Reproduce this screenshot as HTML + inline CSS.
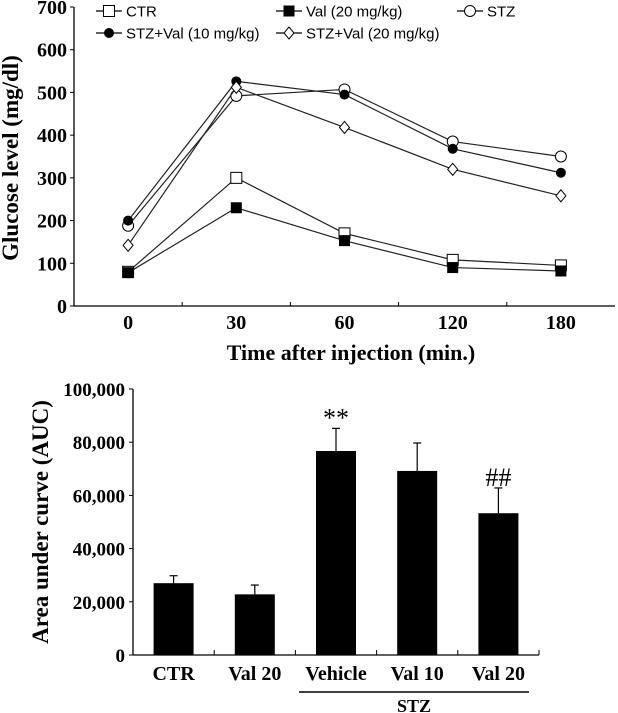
<!DOCTYPE html>
<html><head><meta charset="utf-8"><style>
body{margin:0;background:#fff;}
svg{display:block;}
.t{font-family:"Liberation Serif",serif;font-weight:bold;fill:#000;}
.l{font-family:"Liberation Sans",sans-serif;font-size:15px;fill:#000;}
</style></head><body>
<svg id="svg" width="618" height="713" viewBox="0 0 618 713" xmlns="http://www.w3.org/2000/svg">
<g id="topchart"></g>
<g id="bot"></g>
</svg>
<script>
const timeLabels=["0","30","60","120","180"];
const ctrVals=[80,300,170,108,95];
const valVals=[78,230,153,90,82];
const stzVals=[188,492,507,385,350];
const stzV10Vals=[200,526,495,368,312];
const stzV20Vals=[142,512,418,320,258];
const yTicksTop=[0,100,200,300,400,500,600,700];

const barCats=["CTR","Val 20","Vehicle","Val 10","Val 20"];
const barVals=[27000,22800,76700,69200,53300];
const barErr=[2800,3500,8500,10500,9500];
const barSig=["","","**","","##"];
const yTicksBot=[0,20000,40000,60000,80000,100000];

const NS="http://www.w3.org/2000/svg";
function mk(p,tag,a,txt){const e=document.createElementNS(NS,tag);for(const k in a)e.setAttribute(k,a[k]);if(txt!==undefined)e.textContent=txt;p.appendChild(e);return e;}
const fmt=v=>v.toLocaleString("en-US");

// ---- top chart
const gTop=document.getElementById("topchart");
const tx0=74,tx1=615,ty0=306,ty1=7;
const tyS=v=>ty0-(ty0-ty1)*v/700;
const band=(tx1-tx0)/5;
const txS=i=>tx0+band*(i+0.5);
let e;
e=mk(gTop,"line",{x1:tx0,y1:ty1,x2:tx0,y2:ty0,stroke:"#000","stroke-width":1.3});

e=mk(gTop,"line",{x1:tx0,y1:ty0,x2:tx1,y2:ty0,stroke:"#000","stroke-width":1.3});

yTicksTop.forEach(v=>{
 const y=tyS(v);
 mk(gTop,"line",{x1:tx0-4,y1:y,x2:tx0,y2:y,stroke:"#000"});
 e=mk(gTop,"text",{x:tx0-7,y:y+7,"text-anchor":"end","font-size":20,class:"t"},String(v));
 
});
for(let i=1;i<5;i++){mk(gTop,"line",{x1:tx0+band*i,y1:ty0,x2:tx0+band*i,y2:ty0-4,stroke:"#000"});}
timeLabels.forEach((t,i)=>{
 e=mk(gTop,"text",{x:txS(i),y:329,"text-anchor":"middle","font-size":20,class:"t"},t);
 
});
e=mk(gTop,"text",{x:351,y:360,"text-anchor":"middle","font-size":22,class:"t"},"Time after injection (min.)");

e=mk(gTop,"text",{x:0,y:0,"text-anchor":"middle","font-size":23,class:"t",transform:"translate(18,158) rotate(-90)"},"Glucose level (mg/dl)");


function marker(g,type,x,y){
 if(type=="osq")return mk(g,"rect",{x:x-5.5,y:y-5.5,width:11,height:11,fill:"#fff",stroke:"#000","stroke-width":1});
 if(type=="fsq")return mk(g,"rect",{x:x-5.5,y:y-5.5,width:11,height:11,fill:"#000"});
 if(type=="oc")return mk(g,"circle",{cx:x,cy:y,r:5.5,fill:"#fff",stroke:"#000","stroke-width":1});
 if(type=="fc")return mk(g,"circle",{cx:x,cy:y,r:5,fill:"#000"});
 return mk(g,"polygon",{points:`${x},${y-6} ${x+5},${y} ${x},${y+6} ${x-5},${y}`,fill:"#fff",stroke:"#000","stroke-width":1});
}
const series=[
 {n:"ctr",vals:ctrVals,m:"osq",lab:"CTR",lx:96,ly:11},
 {n:"val",vals:valVals,m:"fsq",lab:"Val (20 mg/kg)",lx:276,ly:11},
 {n:"stz",vals:stzVals,m:"oc",lab:"STZ",lx:457,ly:11},
 {n:"stz-val10",vals:stzV10Vals,m:"fc",lab:"STZ+Val (10 mg/kg)",lx:96,ly:33},
 {n:"stz-val20",vals:stzV20Vals,m:"dia",lab:"STZ+Val (20 mg/kg)",lx:276,ly:33},
];
series.forEach(s=>{
 const g=mk(gTop,"g",{});
 
 const pts=s.vals.map((v,i)=>txS(i)+","+tyS(v)).join(" ");
 mk(g,"polyline",{points:pts,fill:"none",stroke:"#222","stroke-width":1.2});
 s.vals.forEach((v,i)=>{const m=marker(g,s.m,txS(i),tyS(v));
  });
 const lg=mk(gTop,"g",{});
 
 mk(lg,"line",{x1:s.lx,y1:s.ly,x2:s.lx+26,y2:s.ly,stroke:"#000","stroke-width":1.2});
 marker(lg,s.m,s.lx+13,s.ly);
 mk(lg,"text",{x:s.lx+30,y:s.ly+5.5,class:"l"},s.lab);
});

// ---- bottom chart
const bot=document.getElementById("bot");
const bx0=133,bx1=539,by0=655,by1=389;
const byS=v=>by0-(by0-by1)*v/100000;
const bb=(bx1-bx0)/5;
const bxS=i=>bx0+bb*(i+0.5);
e=mk(bot,"line",{x1:bx0,y1:by1,x2:bx0,y2:by0,stroke:"#000","stroke-width":1.3});

e=mk(bot,"line",{x1:bx0,y1:by0,x2:bx1,y2:by0,stroke:"#000","stroke-width":1.3});

for(let i=1;i<=5;i++)mk(bot,"line",{x1:bx0+bb*i,y1:by0,x2:bx0+bb*i,y2:by0-5,stroke:"#000"});
yTicksBot.forEach(v=>{
 const y=byS(v);
 mk(bot,"line",{x1:bx0-4,y1:y,x2:bx0,y2:y,stroke:"#000"});
 e=mk(bot,"text",{x:bx0-8,y:y+7,"text-anchor":"end","font-size":19,class:"t"},fmt(v));
 
});
barVals.forEach((v,i)=>{
 const x=bxS(i);
 const errTop=byS(v+barErr[i]);
 e=mk(bot,"line",{x1:x,y1:byS(v),x2:x,y2:errTop,stroke:"#000","stroke-width":1.2});
 
 mk(bot,"line",{x1:x-4,y1:errTop,x2:x+4,y2:errTop,stroke:"#000","stroke-width":1.2});
 e=mk(bot,"rect",{x:x-20,y:byS(v),width:40,height:by0-byS(v),fill:"#000"});
 
 e=mk(bot,"text",{x:x,y:680,"text-anchor":"middle","font-size":20,class:"t"},barCats[i]);
 
 if(barSig[i]){
  e=mk(bot,"text",{x:x,y:errTop-2,"text-anchor":"middle","font-size":26,"font-family":"Liberation Serif,serif",fill:"#000"},barSig[i]);
  
 }
});
e=mk(bot,"line",{x1:299,y1:692,x2:529,y2:692,stroke:"#000","stroke-width":1.5});

e=mk(bot,"text",{x:414,y:712,"text-anchor":"middle","font-size":18,class:"t"},"STZ");

e=mk(bot,"text",{x:0,y:0,"text-anchor":"middle","font-size":23,class:"t",transform:"translate(48,522) rotate(-90)"},"Area under curve (AUC)");

</script>
</body></html>
